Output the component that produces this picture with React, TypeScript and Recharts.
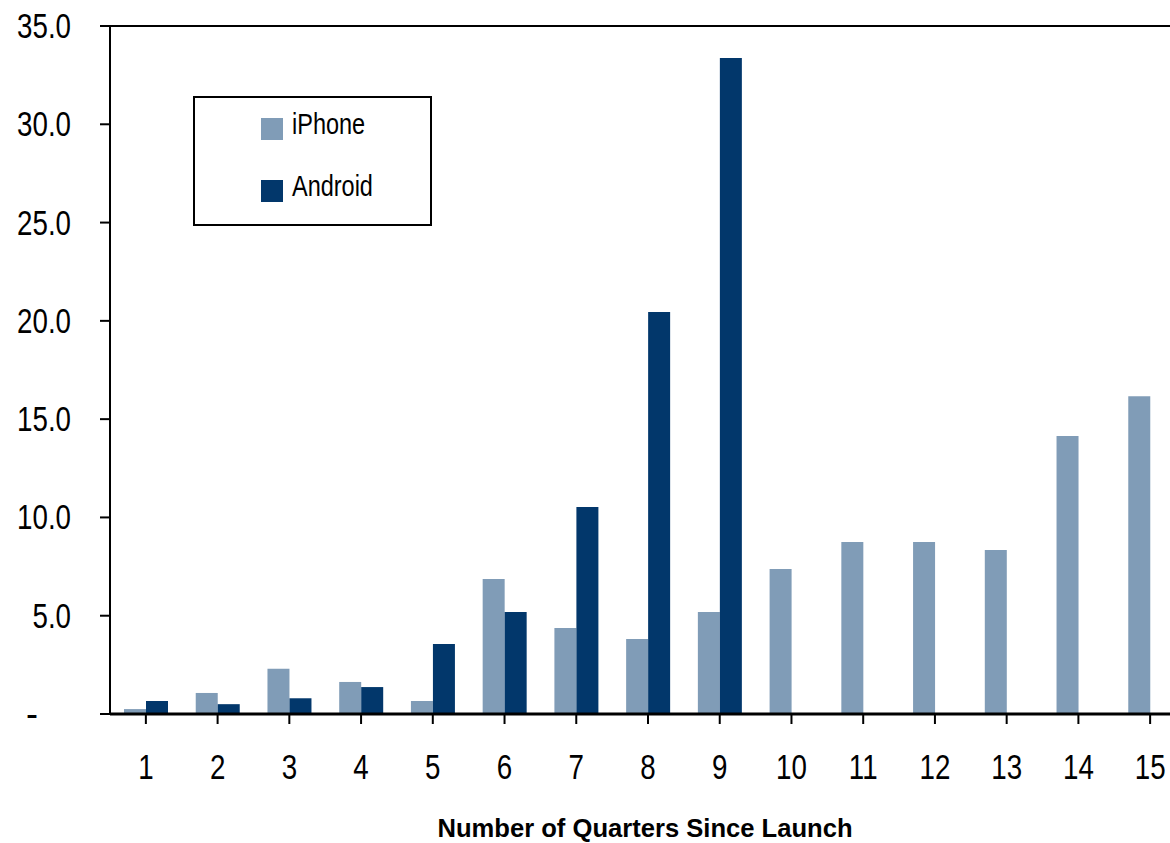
import React from 'react'
import { BarChart, Bar, XAxis, YAxis, Legend, ReferenceLine } from 'recharts'

const quarters = ['1', '2', '3', '4', '5', '6', '7', '8', '9', '10', '11', '12', '13', '14', '15']
const iphone = [0.25, 1.07, 2.3, 1.63, 0.66, 6.87, 4.37, 3.81, 5.19, 7.38, 8.75, 8.75, 8.34, 14.14, 16.17]
const android = [0.66, 0.5, 0.8, 1.37, 3.56, 5.19, 10.53, 20.45, 33.37, null, null, null, null, null, null]
const yTicks = [0, 5, 10, 15, 20, 25, 30, 35]

const COLORS = {
  iphone: '#809cb7',
  android: '#02376b',
}

const FONT = "'Liberation Sans', Arial, sans-serif"

const data = quarters.map((q, i) => ({ q, iPhone: iphone[i], Android: android[i] }))

const YTick = ({ x, y, payload }: any) => {
  if (payload.value === 0) {
    return (
      <text x={38} y={y + 12} fontSize={36} fontFamily={FONT} textAnchor="end" fill="#000">
        -
      </text>
    )
  }
  return (
    <g transform={`translate(${x},${y + 12})`}>
      <text transform="scale(0.77,1)" textAnchor="end" fontSize={36} fontFamily={FONT} fill="#000">
        {payload.value.toFixed(1)}
      </text>
    </g>
  )
}

const XTick = ({ x, y, payload }: any) => (
  <g transform={`translate(${x},${y})`}>
    <text transform="scale(0.77,1)" textAnchor="middle" fontSize={36} fontFamily={FONT} fill="#000">
      {payload.value}
    </text>
  </g>
)

const AxisTitle = () => (
  <text
    x={645}
    y={837}
    textAnchor="middle"
    fontSize={25}
    fontWeight="bold"
    fontFamily={FONT}
    textLength={415}
    lengthAdjust="spacingAndGlyphs"
    fill="#000"
  >
    Number of Quarters Since Launch
  </text>
)

const LegendBox = () => {
  const items = [
    { name: 'iPhone', color: COLORS.iphone, y: 22 },
    { name: 'Android', color: COLORS.android, y: 84 },
  ]
  return (
    <div style={{ width: 239, height: 130, border: '2px solid #000', boxSizing: 'border-box', background: '#fff' }}>
      <svg width={235} height={126} style={{ display: 'block' }}>
        {items.map((it) => (
          <g key={it.name}>
            <rect x={66} y={it.y - 2} width={22} height={22} fill={it.color} />
            <g transform={`translate(97,${it.y + 14})`}>
              <text transform="scale(0.81,1)" fontSize={29} fontFamily={FONT} fill="#000">
                {it.name}
              </text>
            </g>
          </g>
        ))}
      </svg>
    </div>
  )
}

export default function App() {
  return (
    <div style={{ position: 'fixed', left: 0, top: 0, width: 1170, height: 843, overflow: 'hidden', background: '#fff' }}>
      <BarChart
        width={1186}
        height={843}
        data={data}
        margin={{ top: 26, right: 0, bottom: 0, left: 0 }}
        barSize={22}
        barGap={0}
      >
        <ReferenceLine y={35} stroke="#000" strokeWidth={2} />
        <XAxis
          dataKey="q"
          height={129}
          axisLine={{ stroke: '#000', strokeWidth: 3 }}
          tickLine={{ stroke: '#000', strokeWidth: 2 }}
          tickSize={10}
          tickMargin={55}
          tick={<XTick />}
          interval={0}
          label={<AxisTitle />}
        />
        <YAxis
          width={110}
          domain={[0, 35]}
          ticks={yTicks}
          interval={0}
          axisLine={{ stroke: '#000', strokeWidth: 2 }}
          tickLine={{ stroke: '#000', strokeWidth: 2 }}
          tickSize={10}
          tickMargin={29}
          tick={<YTick />}
        />
        <Legend
          layout="horizontal"
          verticalAlign="middle"
          align="center"
          content={<LegendBox />}
          wrapperStyle={{ position: 'absolute', left: 193, top: 96, width: 239, height: 130 }}
        />
        <Bar dataKey="iPhone" fill={COLORS.iphone} isAnimationActive={false} />
        <Bar dataKey="Android" fill={COLORS.android} isAnimationActive={false} />
      </BarChart>
    </div>
  )
}
